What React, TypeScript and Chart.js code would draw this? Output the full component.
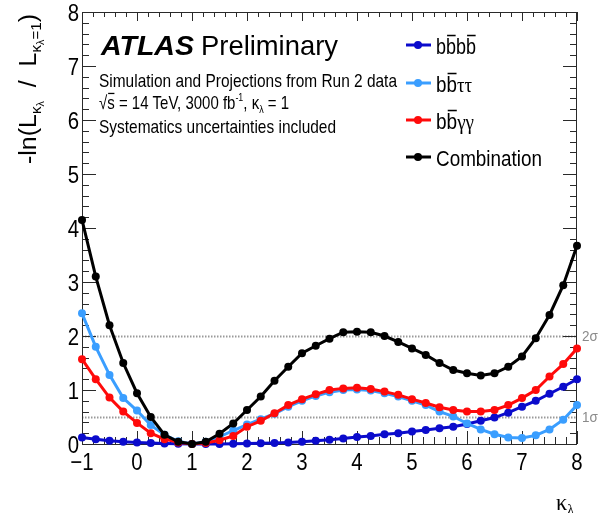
import React, { useEffect, useRef } from "react";
import { Chart, registerables } from "chart.js";

Chart.register(...registerables);

// ---------------- data ----------------
const kappaLambda = [-1, -0.75, -0.5, -0.25, 0, 0.25, 0.5, 0.75, 1, 1.25, 1.5, 1.75, 2, 2.25, 2.5, 2.75, 3, 3.25, 3.5, 3.75, 4, 4.25, 4.5, 4.75, 5, 5.25, 5.5, 5.75, 6, 6.25, 6.5, 6.75, 7, 7.25, 7.5, 7.75, 8];

const bbbb = [0.12, 0.09, 0.06, 0.04, 0.03, 0.02, 0.01, 0.005, 0, 0, 0, 0.005, 0.01, 0.015, 0.02, 0.03, 0.04, 0.06, 0.08, 0.1, 0.13, 0.15, 0.18, 0.2, 0.23, 0.26, 0.29, 0.32, 0.37, 0.43, 0.49, 0.58, 0.69, 0.8, 0.93, 1.06, 1.2];
const bbtautau = [2.42, 1.8, 1.28, 0.85, 0.62, 0.35, 0.17, 0.05, 0, 0.04, 0.13, 0.25, 0.36, 0.46, 0.56, 0.69, 0.8, 0.89, 0.96, 1.0, 1.01, 0.99, 0.94, 0.88, 0.8, 0.72, 0.6, 0.51, 0.38, 0.27, 0.18, 0.12, 0.11, 0.16, 0.27, 0.45, 0.72];
const bbyy = [1.57, 1.2, 0.86, 0.6, 0.39, 0.2, 0.09, 0.03, 0, 0.02, 0.07, 0.15, 0.32, 0.43, 0.57, 0.72, 0.83, 0.92, 1.0, 1.03, 1.04, 1.02, 0.97, 0.91, 0.83, 0.76, 0.68, 0.63, 0.6, 0.6, 0.63, 0.72, 0.85, 1.0, 1.25, 1.48, 1.77];
const combination = [4.15, 3.1, 2.2, 1.5, 0.94, 0.5, 0.17, 0.04, 0, 0.04, 0.19, 0.38, 0.63, 0.88, 1.17, 1.43, 1.68, 1.82, 1.95, 2.07, 2.08, 2.07, 2.0, 1.89, 1.77, 1.65, 1.5, 1.37, 1.31, 1.27, 1.31, 1.43, 1.62, 1.96, 2.39, 2.94, 3.67];

const xTicks = [-1, 0, 1, 2, 3, 4, 5, 6, 7, 8];
const yTicks = [0, 1, 2, 3, 4, 5, 6, 7, 8];
const sigmaLevels = [0.5, 2];
const sigmaLabels = ["1σ", "2σ"];

const COLORS = {
  bbbb: "#0b0bcc",
  bbtautau: "#3a9eff",
  bbyy: "#ff0a0a",
  comb: "#000000",
};

// ---------------- text helpers ----------------
const SANS = "'Liberation Sans', Arial, Helvetica, sans-serif";
const SERIF = "'Liberation Serif', 'Times New Roman', serif";

type Piece = {
  t: string;
  size: number;
  dy?: number;
  family?: string;
  weight?: string;
  style?: string;
  over?: boolean;
};

function fontOf(p: Piece) {
  return `${p.style || "normal"} ${p.weight || "normal"} ${p.size}px ${p.family || SANS}`;
}

function drawRich(
  ctx: CanvasRenderingContext2D,
  pieces: Piece[],
  x: number,
  y: number,
  opts: { width?: number; sx?: number; align?: "left" | "center" | "right"; color?: string } = {}
) {
  ctx.save();
  const widths = pieces.map((p) => {
    ctx.font = fontOf(p);
    return ctx.measureText(p.t).width;
  });
  const total = widths.reduce((a, b) => a + b, 0);
  const sx = opts.width ? opts.width / total : opts.sx ?? 1;
  let x0 = x;
  if (opts.align === "center") x0 = x - (total * sx) / 2;
  else if (opts.align === "right") x0 = x - total * sx;
  ctx.translate(x0, y);
  ctx.scale(sx, 1);
  ctx.fillStyle = opts.color || "#000";
  ctx.strokeStyle = opts.color || "#000";
  ctx.textAlign = "left";
  ctx.textBaseline = "alphabetic";
  let cx = 0;
  pieces.forEach((p, i) => {
    ctx.font = fontOf(p);
    const dy = p.dy ?? 0;
    ctx.fillText(p.t, cx, dy);
    if (p.over) {
      ctx.lineWidth = Math.max(1.2, p.size * 0.07);
      ctx.beginPath();
      const oy = dy - p.size * 0.84;
      ctx.moveTo(cx + p.size * 0.06, oy);
      ctx.lineTo(cx + widths[i] - p.size * 0.02, oy);
      ctx.stroke();
    }
    cx += widths[i];
  });
  ctx.restore();
  return total * sx;
}

// ---------------- plugins ----------------
const framePlugin = {
  id: "rootFrame",
  beforeDatasetsDraw(chart: any) {
    const ctx: CanvasRenderingContext2D = chart.ctx;
    const xs = chart.scales.x;
    const ys = chart.scales.y;
    const { left, right, top, bottom } = chart.chartArea;
    ctx.save();

    // dotted sigma lines
    ctx.strokeStyle = "#9a9a9a";
    ctx.lineWidth = 2;
    ctx.setLineDash([1.5, 1.5]);
    sigmaLevels.forEach((lv) => {
      const py = Math.round(ys.getPixelForValue(lv)) + 0.5;
      ctx.beginPath();
      ctx.moveTo(left, py);
      ctx.lineTo(right, py);
      ctx.stroke();
    });
    ctx.setLineDash([]);

    // frame
    ctx.strokeStyle = "#2a2a2a";
    ctx.lineWidth = 1;
    ctx.strokeRect(left + 0.5, top + 0.5, right - left - 1, bottom - top);

    // x ticks (major + minor 0.2)
    ctx.beginPath();
    for (let i = 0; i < xTicks.length; i++) {
      const v = xTicks[i];
      const px = Math.round(xs.getPixelForValue(v)) + 0.5;
      ctx.moveTo(px, bottom);
      ctx.lineTo(px, bottom - 13);
      ctx.moveTo(px, top);
      ctx.lineTo(px, top + 9);
      if (i < xTicks.length - 1) {
        for (let k = 1; k < 5; k++) {
          const mv = v + (k * (xTicks[i + 1] - v)) / 5;
          const mpx = Math.round(xs.getPixelForValue(mv)) + 0.5;
          ctx.moveTo(mpx, bottom);
          ctx.lineTo(mpx, bottom - 7);
          ctx.moveTo(mpx, top);
          ctx.lineTo(mpx, top + 5);
        }
      }
    }
    // y ticks
    for (let i = 0; i < yTicks.length; i++) {
      const v = yTicks[i];
      const py = Math.round(ys.getPixelForValue(v)) + 0.5;
      ctx.moveTo(left, py);
      ctx.lineTo(left + 14, py);
      ctx.moveTo(right, py);
      ctx.lineTo(right - 14, py);
      if (i < yTicks.length - 1) {
        for (let k = 1; k < 5; k++) {
          const mv = v + (k * (yTicks[i + 1] - v)) / 5;
          const mpy = Math.round(ys.getPixelForValue(mv)) + 0.5;
          ctx.moveTo(left, mpy);
          ctx.lineTo(left + 7, mpy);
          ctx.moveTo(right, mpy);
          ctx.lineTo(right - 7, mpy);
        }
      }
    }
    ctx.stroke();
    ctx.restore();
  },
};

const textPlugin = {
  id: "rootText",
  afterDraw(chart: any) {
    const ctx: CanvasRenderingContext2D = chart.ctx;
    const xs = chart.scales.x;
    const ys = chart.scales.y;
    const { right, bottom } = chart.chartArea;
    ctx.save();

    // tick labels
    yTicks.forEach((v) => {
      drawRich(ctx, [{ t: String(v), size: 24 }], 79, ys.getPixelForValue(v) + 8.5, { sx: 0.85, align: "right" });
    });
    xTicks.forEach((v) => {
      const s = v < 0 ? "\u2212" + Math.abs(v) : String(v);
      drawRich(ctx, [{ t: s, size: 24 }], xs.getPixelForValue(v), bottom + 26, { sx: 0.85, align: "center" });
    });

    // sigma labels
    sigmaLevels.forEach((lv, i) => {
      drawRich(ctx, [{ t: sigmaLabels[i], size: 15 }], right + 5, ys.getPixelForValue(lv) + 5, { sx: 0.9, color: "#8a8a8a" });
    });

    // y-axis title (rotated)
    ctx.save();
    ctx.translate(36, 89);
    ctx.rotate(-Math.PI / 2);
    drawRich(
      ctx,
      [
        { t: "-ln(L", size: 23 },
        { t: "κ", size: 14, dy: 5 },
        { t: "λ", size: 10, dy: 8 },
        { t: "  /  L", size: 23 },
        { t: "κ", size: 14, dy: 5 },
        { t: "λ", size: 10, dy: 8 },
        { t: "=1", size: 14, dy: 5 },
        { t: ")", size: 23 },
      ],
      0,
      0,
      { width: 150, align: "center" }
    );
    ctx.restore();

    // x-axis title
    drawRich(
      ctx,
      [
        { t: "κ", size: 24, family: SERIF },
        { t: "λ", size: 15, dy: 4, family: SERIF },
      ],
      556,
      510,
      { width: 18 }
    );

    // ATLAS label
    drawRich(ctx, [{ t: "ATLAS", size: 27.5, weight: "bold", style: "italic" }], 101, 55, { width: 93 });
    drawRich(ctx, [{ t: "Preliminary", size: 27.5 }], 201, 55, { width: 137 });
    drawRich(ctx, [{ t: "Simulation and Projections from Run 2 data", size: 18.5 }], 99, 87, { width: 298 });
    drawRich(
      ctx,
      [
        { t: "√", size: 18.5 },
        { t: "s", size: 18.5, over: true },
        { t: " = 14 TeV, 3000 fb", size: 18.5 },
        { t: "-1", size: 11, dy: -8 },
        { t: ", ", size: 18.5 },
        { t: "κ", size: 18.5 },
        { t: "λ", size: 11, dy: 4 },
        { t: " = 1", size: 18.5 },
      ],
      99,
      109,
      { width: 190 }
    );
    drawRich(ctx, [{ t: "Systematics uncertainties included", size: 18.5 }], 99, 133, { width: 237 });

    // legend
    const entries: { color: string; pieces: Piece[]; width: number }[] = [
      {
        color: COLORS.bbbb,
        pieces: [
          { t: "b", size: 22 },
          { t: "b", size: 22, over: true },
          { t: "b", size: 22 },
          { t: "b", size: 22, over: true },
        ],
        width: 40,
      },
      {
        color: COLORS.bbtautau,
        pieces: [
          { t: "b", size: 22 },
          { t: "b", size: 22, over: true },
          { t: "ττ", size: 22, family: SERIF },
        ],
        width: 36,
      },
      {
        color: COLORS.bbyy,
        pieces: [
          { t: "b", size: 22 },
          { t: "b", size: 22, over: true },
          { t: "γγ", size: 22, family: SERIF },
        ],
        width: 38,
      },
      { color: COLORS.comb, pieces: [{ t: "Combination", size: 22 }], width: 106 },
    ];
    const legendY = [45, 83, 120, 157];
    entries.forEach((e, i) => {
      const y = legendY[i];
      ctx.strokeStyle = e.color;
      ctx.fillStyle = e.color;
      ctx.lineWidth = 3;
      ctx.beginPath();
      ctx.moveTo(406, y);
      ctx.lineTo(431, y);
      ctx.stroke();
      ctx.beginPath();
      ctx.arc(418, y, 4, 0, Math.PI * 2);
      ctx.fill();
      drawRich(ctx, e.pieces, 436, y + 9, { width: e.width });
    });

    ctx.restore();
  },
};

function series(values: number[]) {
  return kappaLambda.map((x, i) => ({ x, y: values[i] }));
}

export default function App() {
  const ref = useRef<HTMLCanvasElement>(null);

  useEffect(() => {
    document.body.style.margin = "0";
    const canvas = ref.current;
    if (!canvas) return;
    const mk = (label: string, values: number[], color: string, order: number) => ({
      label,
      data: series(values),
      borderColor: color,
      backgroundColor: color,
      borderWidth: 3,
      pointRadius: 4,
      pointBorderWidth: 0,
      pointBackgroundColor: color,
      tension: 0,
      clip: false as any,
      order,
    });
    const chart = new Chart(canvas, {
      type: "line",
      data: {
        datasets: [
          mk("bbbb", bbbb, COLORS.bbbb, 3),
          mk("bbττ", bbtautau, COLORS.bbtautau, 2),
          mk("bbγγ", bbyy, COLORS.bbyy, 1),
          mk("Combination", combination, COLORS.comb, 0),
        ],
      },
      options: {
        responsive: false,
        devicePixelRatio: 1,
        animation: false,
        layout: { padding: { left: 82, right: 21, top: 12, bottom: 69 } },
        scales: {
          x: { type: "linear", min: -1, max: 8, display: false },
          y: { type: "linear", min: 0, max: 8, display: false },
        },
        plugins: {
          legend: { display: false },
          tooltip: { enabled: false },
        },
      },
      plugins: [framePlugin, textPlugin],
    } as any);
    return () => chart.destroy();
  }, []);

  return (
    <canvas
      ref={ref}
      width={598}
      height={513}
      style={{ display: "block", width: 598, height: 513 }}
    />
  );
}
